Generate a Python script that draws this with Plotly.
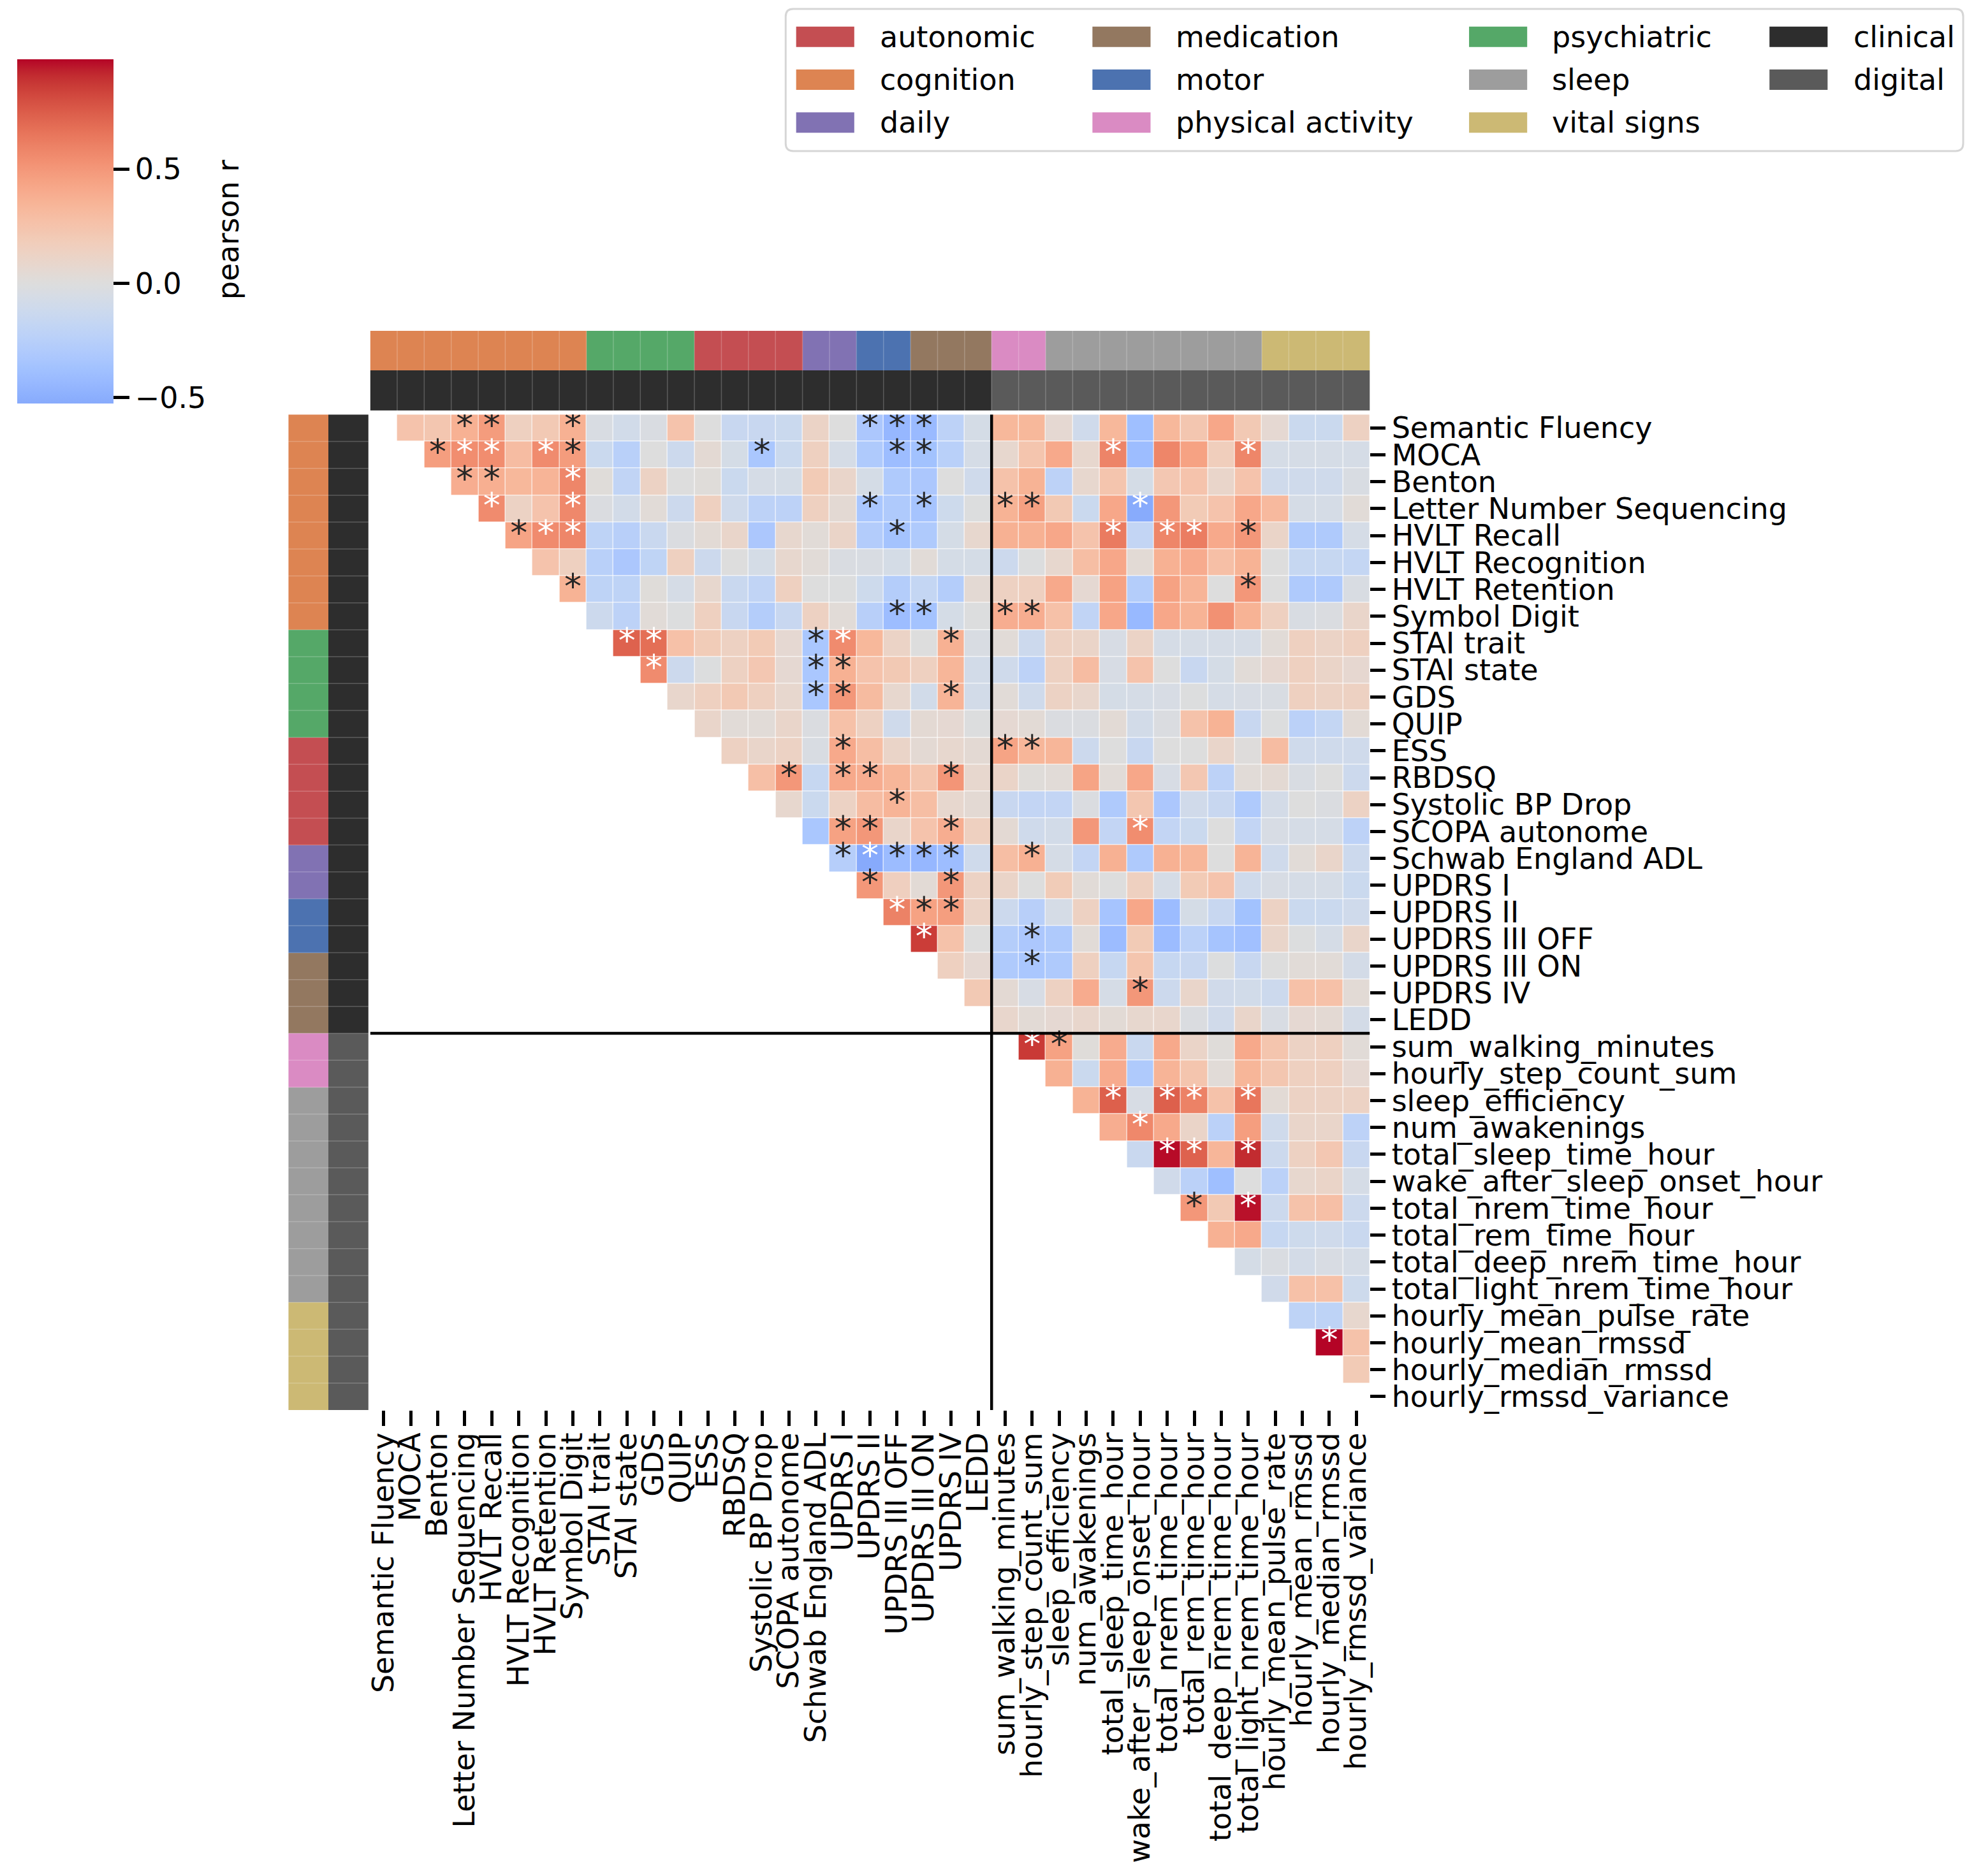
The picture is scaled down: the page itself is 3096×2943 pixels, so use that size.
import plotly.graph_objects as go

# ---------------- data ----------------
variables = [
    "Semantic Fluency", "MOCA", "Benton", "Letter Number Sequencing", "HVLT Recall",
    "HVLT Recognition", "HVLT Retention", "Symbol Digit", "STAI trait", "STAI state",
    "GDS", "QUIP", "ESS", "RBDSQ", "Systolic BP Drop", "SCOPA autonome",
    "Schwab England ADL", "UPDRS I", "UPDRS II", "UPDRS III OFF", "UPDRS III ON",
    "UPDRS IV", "LEDD", "sum_walking_minutes", "hourly_step_count_sum",
    "sleep_efficiency", "num_awakenings", "total_sleep_time_hour",
    "wake_after_sleep_onset_hour", "total_nrem_time_hour", "total_rem_time_hour",
    "total_deep_nrem_time_hour", "total_light_nrem_time_hour", "hourly_mean_pulse_rate",
    "hourly_mean_rmssd", "hourly_median_rmssd", "hourly_rmssd_variance",
]

variable_category = [
    "cognition", "cognition", "cognition", "cognition", "cognition", "cognition",
    "cognition", "cognition", "psychiatric", "psychiatric", "psychiatric", "psychiatric",
    "autonomic", "autonomic", "autonomic", "autonomic", "daily", "daily", "motor",
    "motor", "medication", "medication", "medication", "physical activity",
    "physical activity", "sleep", "sleep", "sleep", "sleep", "sleep", "sleep", "sleep",
    "sleep", "vital signs", "vital signs", "vital signs", "vital signs",
]

variable_type = [
    "clinical", "clinical", "clinical", "clinical", "clinical", "clinical", "clinical",
    "clinical", "clinical", "clinical", "clinical", "clinical", "clinical", "clinical",
    "clinical", "clinical", "clinical", "clinical", "clinical", "clinical", "clinical",
    "clinical", "clinical", "digital", "digital", "digital", "digital", "digital",
    "digital", "digital", "digital", "digital", "digital", "digital", "digital",
    "digital", "digital",
]

# upper triangle of the pearson r matrix: row i holds columns i+1 .. end
corr_upper = [
    [0.25, 0.23, 0.37, 0.48, 0.15, 0.21, 0.37, -0.035, -0.085, -0.03, 0.25, 0.0, -0.15, -0.15, -0.13, 0.12, 0.0, -0.32, -0.44, -0.42, -0.22, -0.065, 0.33, 0.33, 0.06, -0.1, 0.33, -0.39, 0.33, 0.23, 0.42, 0.21, 0.06, -0.13, -0.13, 0.14],
    [0.47, 0.55, 0.55, 0.3, 0.56, 0.48, -0.13, -0.24, 0.0, -0.12, 0.05, -0.065, -0.33, -0.13, 0.15, -0.06, -0.3, -0.4, -0.37, -0.24, -0.06, 0.08, 0.24, 0.41, 0.08, 0.59, -0.4, 0.58, 0.45, 0.17, 0.58, -0.06, -0.06, -0.06, -0.06],
    [0.39, 0.38, 0.33, 0.35, 0.58, 0.02, -0.19, 0.13, 0.0, 0.02, -0.13, -0.06, -0.065, 0.2, 0.1, -0.065, -0.3, -0.32, 0.0, -0.1, 0.26, 0.36, -0.22, 0.08, 0.24, -0.065, 0.22, 0.25, 0.1, 0.25, -0.1, -0.1, -0.1, -0.035],
    [0.56, 0.13, 0.25, 0.57, -0.02, -0.08, 0.03, -0.12, 0.15, -0.1, -0.22, -0.22, 0.15, 0.05, -0.33, -0.3, -0.35, -0.11, -0.01, 0.36, 0.46, 0.21, -0.13, 0.42, -0.52, 0.5, 0.2, 0.25, 0.42, 0.32, -0.06, -0.06, 0.03],
    [0.44, 0.56, 0.58, -0.21, -0.25, -0.14, -0.02, 0.04, 0.1, -0.32, 0.08, 0.03, 0.11, -0.28, -0.36, -0.3, -0.065, 0.08, 0.37, 0.37, 0.42, 0.25, 0.63, -0.18, 0.58, 0.62, 0.41, 0.5, 0.11, -0.3, -0.3, -0.06],
    [0.25, 0.15, -0.24, -0.32, -0.2, 0.15, -0.12, 0.0, -0.065, 0.08, 0.03, -0.03, -0.035, -0.065, 0.03, -0.065, -0.065, -0.12, -0.01, 0.08, 0.29, 0.42, 0.04, 0.37, 0.4, 0.28, 0.36, 0.0, -0.16, -0.16, -0.17],
    [0.36, -0.21, -0.21, 0.02, -0.06, 0.08, -0.14, -0.19, 0.15, 0.0, -0.01, -0.11, -0.27, -0.17, -0.27, 0.05, 0.14, 0.15, 0.41, 0.06, 0.45, -0.27, 0.45, 0.35, 0.0, 0.5, 0.0, -0.3, -0.3, -0.035],
    [-0.12, -0.22, 0.03, -0.01, 0.15, -0.15, -0.27, -0.15, 0.14, 0.03, -0.25, -0.4, -0.36, -0.065, -0.01, 0.39, 0.39, 0.27, -0.19, 0.42, -0.43, 0.42, 0.36, 0.53, 0.36, 0.15, -0.035, -0.02, 0.1],
    [0.73, 0.68, 0.27, 0.19, 0.14, 0.2, 0.06, -0.33, 0.56, 0.33, 0.12, 0.0, 0.37, -0.035, 0.03, -0.12, 0.14, 0.11, -0.05, 0.12, -0.06, -0.06, -0.06, -0.06, 0.03, 0.15, 0.12, 0.15],
    [0.56, -0.12, -0.01, 0.14, 0.22, 0.06, -0.33, 0.37, 0.25, 0.21, 0.15, 0.34, -0.08, -0.1, -0.22, 0.14, 0.3, -0.05, 0.25, 0.0, -0.15, -0.065, 0.03, 0.07, 0.15, 0.11, 0.07],
    [0.09, 0.15, 0.21, 0.15, 0.08, -0.33, 0.5, 0.31, 0.08, -0.085, 0.35, -0.08, 0.03, -0.1, 0.13, 0.09, -0.065, -0.06, -0.05, -0.01, -0.06, -0.05, -0.035, 0.15, 0.13, 0.14],
    [0.1, 0.03, 0.03, 0.1, -0.02, 0.27, 0.14, -0.1, 0.05, 0.06, -0.01, 0.06, 0.04, -0.02, -0.02, 0.04, -0.08, -0.02, 0.26, 0.36, -0.15, -0.01, -0.23, -0.17, 0.04],
    [0.14, 0.1, 0.13, -0.035, 0.41, 0.29, 0.11, 0.05, 0.08, 0.05, 0.44, 0.34, 0.34, -0.12, 0.0, -0.15, 0.0, 0.0, 0.1, 0.01, 0.3, -0.1, -0.1, -0.1],
    [0.28, 0.5, -0.16, 0.41, 0.39, 0.34, 0.24, 0.51, 0.08, 0.11, 0.02, 0.03, 0.44, 0.03, 0.42, -0.05, 0.22, -0.22, 0.03, 0.05, -0.035, 0.0, -0.12],
    [0.08, -0.13, 0.13, 0.3, 0.35, 0.29, 0.08, 0.05, -0.15, -0.18, -0.18, -0.02, -0.3, 0.23, -0.32, -0.09, -0.15, -0.3, -0.07, 0.0, -0.02, 0.13],
    [-0.33, 0.45, 0.5, 0.1, 0.25, 0.39, 0.15, 0.05, -0.1, -0.08, 0.5, -0.18, 0.55, -0.18, -0.13, 0.0, -0.18, -0.05, -0.06, -0.06, -0.22],
    [-0.26, -0.525, -0.41, -0.44, -0.4, -0.1, 0.29, 0.37, -0.06, -0.18, 0.37, -0.3, 0.37, 0.34, 0.0, 0.35, -0.1, 0.03, 0.1, -0.12],
    [0.5, 0.16, 0.04, 0.5, 0.13, 0.11, 0.0, 0.19, 0.03, 0.0, 0.15, -0.06, 0.2, 0.25, -0.1, -0.05, -0.06, -0.06, -0.13],
    [0.6, 0.45, 0.47, 0.12, -0.12, -0.25, -0.06, 0.14, -0.35, 0.42, -0.41, -0.065, -0.15, -0.37, 0.13, -0.13, -0.13, -0.1],
    [0.86, 0.26, 0.0, -0.27, -0.32, -0.3, 0.03, -0.41, 0.2, -0.41, -0.23, -0.35, -0.38, 0.1, -0.01, -0.06, 0.1],
    [0.15, 0.06, -0.3, -0.33, -0.3, 0.15, -0.16, 0.24, -0.16, -0.15, -0.01, -0.15, 0.0, 0.03, 0.03, -0.07],
    [0.21, 0.05, -0.05, 0.14, 0.4, -0.06, 0.5, -0.12, 0.1, -0.09, -0.085, -0.12, 0.27, 0.27, 0.04],
    [0.09, 0.04, 0.06, 0.09, 0.04, 0.08, 0.09, -0.02, -0.09, 0.1, -0.04, 0.06, 0.05, -0.07],
    [0.87, 0.45, 0.02, 0.4, -0.14, 0.41, 0.11, 0.02, 0.41, 0.24, 0.13, 0.15, 0.03],
    [0.37, -0.13, 0.4, -0.3, 0.35, 0.24, 0.03, 0.34, 0.23, 0.15, 0.15, 0.06],
    [0.36, 0.74, -0.05, 0.74, 0.6, 0.26, 0.65, 0.04, 0.13, 0.13, 0.13],
    [0.39, 0.57, 0.41, 0.11, -0.23, 0.47, -0.1, 0.1, 0.1, -0.22],
    [-0.14, 0.97, 0.73, 0.34, 0.91, -0.12, 0.14, 0.22, -0.15],
    [-0.09, -0.23, -0.39, 0.0, -0.23, 0.08, 0.11, -0.06],
    [0.5, 0.21, 0.96, -0.12, 0.26, 0.28, -0.12],
    [0.37, 0.41, -0.16, -0.11, -0.1, -0.14],
    [-0.065, -0.03, -0.07, -0.04, -0.06],
    [-0.09, 0.27, 0.27, -0.11],
    [-0.21, -0.21, 0.08],
    [0.982, 0.26],
    [0.2],
]

# (row, column) cells marked as significant
significant_pairs = [
    (0, 3), (0, 4), (0, 7), (0, 18), (0, 19), (0, 20),
    (1, 2), (1, 3), (1, 4), (1, 6), (1, 7), (1, 14), (1, 19), (1, 20), (1, 27), (1, 32),
    (2, 3), (2, 4), (2, 7),
    (3, 4), (3, 7), (3, 18), (3, 20), (3, 23), (3, 24), (3, 28),
    (4, 5), (4, 6), (4, 7), (4, 19), (4, 27), (4, 29), (4, 30), (4, 32),
    (6, 7), (6, 32),
    (7, 19), (7, 20), (7, 23), (7, 24),
    (8, 9), (8, 10), (8, 16), (8, 17), (8, 21),
    (9, 10), (9, 16), (9, 17),
    (10, 16), (10, 17), (10, 21),
    (12, 17), (12, 23), (12, 24),
    (13, 15), (13, 17), (13, 18), (13, 21),
    (14, 19),
    (15, 17), (15, 18), (15, 21), (15, 28),
    (16, 17), (16, 18), (16, 19), (16, 20), (16, 21), (16, 24),
    (17, 18), (17, 21),
    (18, 19), (18, 20), (18, 21),
    (19, 20), (19, 24),
    (20, 24),
    (21, 28),
    (23, 24), (23, 25),
    (25, 27), (25, 29), (25, 30), (25, 32),
    (26, 28),
    (27, 29), (27, 30), (27, 32),
    (29, 30), (29, 32),
    (34, 35),
]

legend_categories = ["autonomic", "cognition", "daily", "medication", "motor",
                     "physical activity", "psychiatric", "sleep", "vital signs"]
legend_types = ["clinical", "digital"]

# ---------------- styles ----------------
category_colors = {
    "autonomic": "#C44E52", "cognition": "#DD8452", "daily": "#8172B3",
    "medication": "#937860", "motor": "#4C72B0", "physical activity": "#DA8BC3",
    "psychiatric": "#55A868", "sleep": "#9D9D9D", "vital signs": "#CCB974",
}
type_colors = {"clinical": "#2D2D2D", "digital": "#5A5A5A"}

COOLWARM = [
    (0.2298057, 0.298717966, 0.753683153), (0.26623388, 0.353094838, 0.801466763),
    (0.30386891, 0.406535296, 0.84495867), (0.342804478, 0.458757618, 0.883725899),
    (0.38301334, 0.50941904, 0.917387822), (0.424369608, 0.558148092, 0.945619588),
    (0.46666708, 0.604562568, 0.968154911), (0.509635204, 0.648280772, 0.98478814),
    (0.552953156, 0.688929332, 0.995375608), (0.596262162, 0.726149107, 0.999836203),
    (0.639176211, 0.759599947, 0.998151185), (0.681291281, 0.788964712, 0.990363227),
    (0.722193294, 0.813952739, 0.976574709), (0.761464949, 0.834302879, 0.956945269),
    (0.798691636, 0.849786142, 0.931688648), (0.833466556, 0.860207984, 0.901068838),
    (0.865395197, 0.86541021, 0.865395561), (0.897787179, 0.848937047, 0.820880546),
    (0.924127593, 0.827384882, 0.774508472), (0.944468518, 0.800927443, 0.726736146),
    (0.958852946, 0.769767752, 0.678007945), (0.96732803, 0.734132809, 0.628751763),
    (0.969954137, 0.694266682, 0.579375448), (0.966811177, 0.650421156, 0.530263762),
    (0.958003065, 0.602842431, 0.481775914), (0.943660866, 0.551750968, 0.434243684),
    (0.923944917, 0.49730856, 0.387970225), (0.89904617, 0.439559467, 0.343229596),
    (0.869186849, 0.378313092, 0.300267182), (0.834620542, 0.312874446, 0.259301199),
    (0.795631745, 0.24128379, 0.220525627), (0.752534934, 0.157246067, 0.184115123),
    (0.705673158, 0.01555616, 0.150232812),
]


def coolwarm(p):
    p = min(max(p, 0.0), 1.0) * (len(COOLWARM) - 1)
    i = min(int(p), len(COOLWARM) - 2)
    t = p - i
    a, b = COOLWARM[i], COOLWARM[i + 1]
    return tuple(a[k] + (b[k] - a[k]) * t for k in range(3))


def rgb_str(c):
    return "rgb(%d,%d,%d)" % tuple(round(255 * v) for v in c)


def luminance(c):
    lin = [v / 12.92 if v <= 0.03928 else ((v + 0.055) / 1.055) ** 2.4 for v in c]
    return 0.2126 * lin[0] + 0.7152 * lin[1] + 0.0722 * lin[2]


W, H = 3096, 2943
FONT = "DejaVu Sans"
FS = 46
AST_FS = 54

n = len(variables)
z = [[None] * n for _ in range(n)]
for i, row in enumerate(corr_upper):
    for k, v in enumerate(row):
        z[i][i + 1 + k] = v

all_vals = [v for row in corr_upper for v in row]
zmin, zmax = min(all_vals), max(all_vals)
vrange = max(abs(zmin), abs(zmax))  # colormap centred on 0
p_lo = (zmin + vrange) / (2 * vrange)
p_hi = (zmax + vrange) / (2 * vrange)
colorscale = []
NS = 64
for s in range(NS + 1):
    t = s / NS
    colorscale.append([t, rgb_str(coolwarm(p_lo + (p_hi - p_lo) * t))])

# ---------------- geometry (pixels) ----------------
main_x = [575.8 / W, 2149.8 / W]
main_y = [1 - 2215.0 / H, 1 - 646.9 / H]
top_bar_y = [1 - 641.0 / H, 1 - 515.0 / H]
left_bar_x = [447.0 / W, 573.0 / W]

fig = go.Figure()

# main heatmap
fig.add_trace(go.Heatmap(
    z=z, x=variables, y=variables, zmin=zmin, zmax=zmax, colorscale=colorscale,
    xgap=1, ygap=1, hoverongaps=False,
    colorbar=dict(
        thickness=151, thicknessmode="pixels", len=540, lenmode="pixels",
        x=20.0 / W, xanchor="left", y=1 - 87.0 / H, yanchor="top",
        xpad=0, ypad=0, outlinewidth=0,
        tickmode="array", tickvals=[-0.5, 0.0, 0.5], ticktext=["\u22120.5", "0.0", "0.5"],
        ticks="outside", ticklen=25, tickwidth=4.5, tickcolor="black",
        tickfont=dict(family=FONT, size=FS, color="black"),
    ),
))

# significance asterisks
ast_x, ast_y, ast_c = [], [], []
for (i, j) in significant_pairs:
    v = z[i][j]
    col = coolwarm((v + vrange) / (2 * vrange))
    ast_x.append(variables[j])
    ast_y.append(variables[i])
    ast_c.append("white" if luminance(col) < 0.415 else "#262626")
fig.add_trace(go.Scatter(
    x=ast_x, y=ast_y, mode="text", text=["*"] * len(ast_x),
    textposition="middle center",
    textfont=dict(family=FONT, size=AST_FS, color=ast_c),
    hoverinfo="skip", showlegend=False,
))

# colour bars
palette = [category_colors[c] for c in legend_categories] + [type_colors[t] for t in legend_types]
cat_idx = [legend_categories.index(c) for c in variable_category]
type_idx = [len(legend_categories) + legend_types.index(t) for t in variable_type]
npal = len(palette)
disc_scale = []
for k, c in enumerate(palette):
    disc_scale.append([k / npal, c])
    disc_scale.append([(k + 1) / npal, c])

fig.add_trace(go.Heatmap(
    z=[cat_idx, type_idx], x=variables, y=["category", "type"],
    zmin=-0.5, zmax=npal - 0.5, colorscale=disc_scale, showscale=False,
    xaxis="x", yaxis="y2", hoverinfo="skip",
))
fig.add_trace(go.Heatmap(
    z=[[a, b] for a, b in zip(cat_idx, type_idx)], x=["category", "type"], y=variables,
    zmin=-0.5, zmax=npal - 0.5, colorscale=disc_scale, showscale=False,
    xaxis="x3", yaxis="y", hoverinfo="skip",
))

shapes = []
# faint separators inside colour bars
for k in range(1, n):
    shapes.append(dict(type="line", xref="x", yref="y2 domain", x0=k - 0.5, x1=k - 0.5,
                       y0=0, y1=1, line=dict(color="rgba(255,255,255,0.22)", width=1.5)))
    shapes.append(dict(type="line", xref="x3 domain", yref="y", x0=0, x1=1,
                       y0=k - 0.5, y1=k - 0.5, line=dict(color="rgba(255,255,255,0.22)", width=1.5)))

# clinical / digital divider lines
n_clin = variable_type.count("clinical")
shapes.append(dict(type="line", xref="x", yref="y", x0=n_clin - 0.5, x1=n_clin - 0.5,
                   y0=-0.5, y1=n - 0.5, line=dict(color="black", width=4.5)))
shapes.append(dict(type="line", xref="x", yref="y", x0=-0.5, x1=n - 0.5,
                   y0=n_clin - 0.5, y1=n_clin - 0.5, line=dict(color="black", width=4.5)))

# legend (drawn manually, 4 columns)
lx0, lx1, ly0, ly1 = 1230.0, 3084.0, 8.0, 232.0
r = 12.0


def P(xp, yp):
    return "%f,%f" % (xp / W, 1 - yp / H)


path = ("M " + P(lx0 + r, ly0) + " L " + P(lx1 - r, ly0) + " Q " + P(lx1, ly0) + " " + P(lx1, ly0 + r)
        + " L " + P(lx1, ly1 - r) + " Q " + P(lx1, ly1) + " " + P(lx1 - r, ly1)
        + " L " + P(lx0 + r, ly1) + " Q " + P(lx0, ly1) + " " + P(lx0, ly1 - r)
        + " L " + P(lx0, ly0 + r) + " Q " + P(lx0, ly0) + " " + P(lx0 + r, ly0) + " Z")
shapes.append(dict(type="path", xref="paper", yref="paper", path=path,
                   fillcolor="rgba(255,255,255,0.8)", line=dict(color="#d6d6d6", width=3)))

legend_entries = legend_categories + legend_types
legend_colors = palette
col_patch_x = [1246.5, 1713.0, 2306.0, 2779.0]
col_text_x = [1376.0, 1842.0, 2434.5, 2909.5]
row_y = [52.0, 119.5, 187.0]
annotations = []
for k, (name, colr) in enumerate(zip(legend_entries, legend_colors)):
    c, rr = divmod(k, 3)
    xp, yp = col_patch_x[c], row_y[rr]
    shapes.append(dict(type="rect", xref="paper", yref="paper",
                       x0=xp / W, x1=(xp + 91.5) / W, y0=1 - (yp - 16) / H, y1=1 - (yp + 16) / H,
                       fillcolor=colr, line=dict(width=0)))
    annotations.append(dict(x=col_text_x[c] / W, y=1 - yp / H, xref="paper", yref="paper",
                            text=name, showarrow=False, xanchor="left", yanchor="middle",
                            font=dict(family=FONT, size=FS, color="black")))

# colorbar label
annotations.append(dict(x=352.0 / W, y=1 - 356.0 / H, xref="paper", yref="paper",
                        text="pearson r", textangle=-90, showarrow=False,
                        xanchor="center", yanchor="middle",
                        font=dict(family=FONT, size=FS, color="black")))

tick_common = dict(ticks="outside", ticklen=24, tickwidth=4.5, tickcolor="black",
                   tickfont=dict(family=FONT, size=FS, color="black"),
                   showgrid=False, zeroline=False, showline=False)

fig.update_layout(
    width=W, height=H, margin=dict(l=0, r=0, t=0, b=0),
    paper_bgcolor="white", plot_bgcolor="white",
    font=dict(family=FONT, size=FS, color="black"),
    showlegend=False,
    xaxis=dict(domain=main_x, anchor="y", side="bottom", tickmode="array",
               tickvals=variables, ticktext=variables, tickangle=-90,
               ticklabelstandoff=-8,
               range=[-0.5, n - 0.5], **tick_common),
    yaxis=dict(domain=main_y, anchor="x", side="right", tickmode="array",
               tickvals=variables, ticktext=variables,
               range=[n - 0.5, -0.5], **tick_common),
    yaxis2=dict(domain=top_bar_y, anchor="x", showticklabels=False, ticks="",
                showgrid=False, zeroline=False, range=[1.5, -0.5]),
    xaxis3=dict(domain=left_bar_x, anchor="y", showticklabels=False, ticks="",
                showgrid=False, zeroline=False, range=[-0.5, 1.5]),
    shapes=shapes,
    annotations=annotations,
)

fig.write_html("out.html", config={"displayModeBar": False},
               post_script="document.body.style.margin='0';document.body.style.overflow='hidden';")
